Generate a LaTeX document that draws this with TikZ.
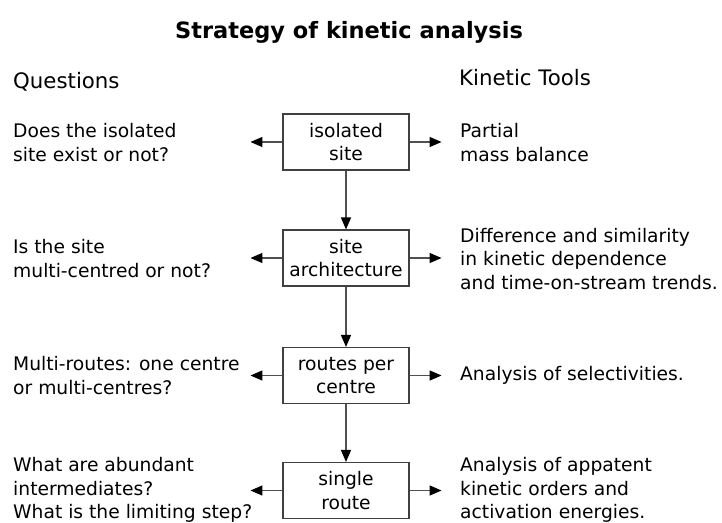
\documentclass[tikz,border=0pt]{standalone}
\usepackage{fontspec}
\setmainfont{DejaVu Sans}
\usetikzlibrary{arrows.meta}
\definecolor{boxline}{HTML}{404040}
\definecolor{arrline}{HTML}{505050}
\begin{document}
\begin{tikzpicture}[x=1pt,y=-1pt,
  body/.style={font=\fontsize{18.7}{23.5}\selectfont, inner sep=0pt, align=left, text=black},
  header/.style={font=\fontsize{21.3}{26}\selectfont, inner sep=0pt, anchor=base west},
  stepbox/.style={draw=boxline, line width=1.1pt, minimum width=126pt, minimum height=56pt, inner sep=0pt, align=center, font=\fontsize{18.7}{23.5}\selectfont},
  conn/.style={draw=arrline, line width=1.4pt, -{Triangle[length=12pt,width=10pt,fill=black,color=black]}}
]
\useasboundingbox (0,0) rectangle (722,522);
\node[font=\bfseries\fontsize{22.5}{27}\selectfont, inner sep=0pt] (title) at (349,32) {Strategy of kinetic analysis};
\node[header] (hq) at (13,88) {Questions};
\node[header] (ht) at (459,85) {Kinetic Tools};

\node[stepbox] (b1) at (346,142) {isolated\\site};
\node[stepbox] (b2) at (346,258) {site\\architecture};
\node[stepbox] (b3) at (346,375.5) {routes per\\centre};
\node[stepbox] (b4) at (346,490.5) {single\\route};

\node[body, anchor=west] (q1) at (13,142.5) {Does the isolated\\site exist or not?};
\node[body, anchor=west] (q2) at (13,258.5) {Is the site\\multi-centred or not?};
\node[body, anchor=west] (q3) at (13,375.5) {Multi-routes: one centre\\or multi-centres?};
\node[body, anchor=west] (q4) at (13,490) {What are abundant\\intermediates?\\What is the limiting step?};

\node[body, anchor=west] (t1) at (460,142.5) {Partial\\mass balance};
\node[body, anchor=west] (t2) at (460,259) {Difference and similarity\\in kinetic dependence\\and time-on-stream trends.};
\node[body, anchor=west] (t3) at (460,375.5) {Analysis of selectivities.};
\node[body, anchor=west] (t4) at (460,490) {Analysis of appatent\\kinetic orders and\\activation energies.};

\foreach \i in {1,2,3,4}{
  \coordinate (l\i) at ([xshift=-32pt]b\i.west);
  \coordinate (r\i) at ([xshift=32pt]b\i.east);
  \draw[conn] (b\i.west) -- (l\i);
  \draw[conn] (b\i.east) -- (r\i);
}
\draw[conn] (b1.south) -- (b2.north);
\draw[conn] (b2.south) -- (b3.north);
\draw[conn] (b3.south) -- (b4.north);
\end{tikzpicture}
\end{document}
